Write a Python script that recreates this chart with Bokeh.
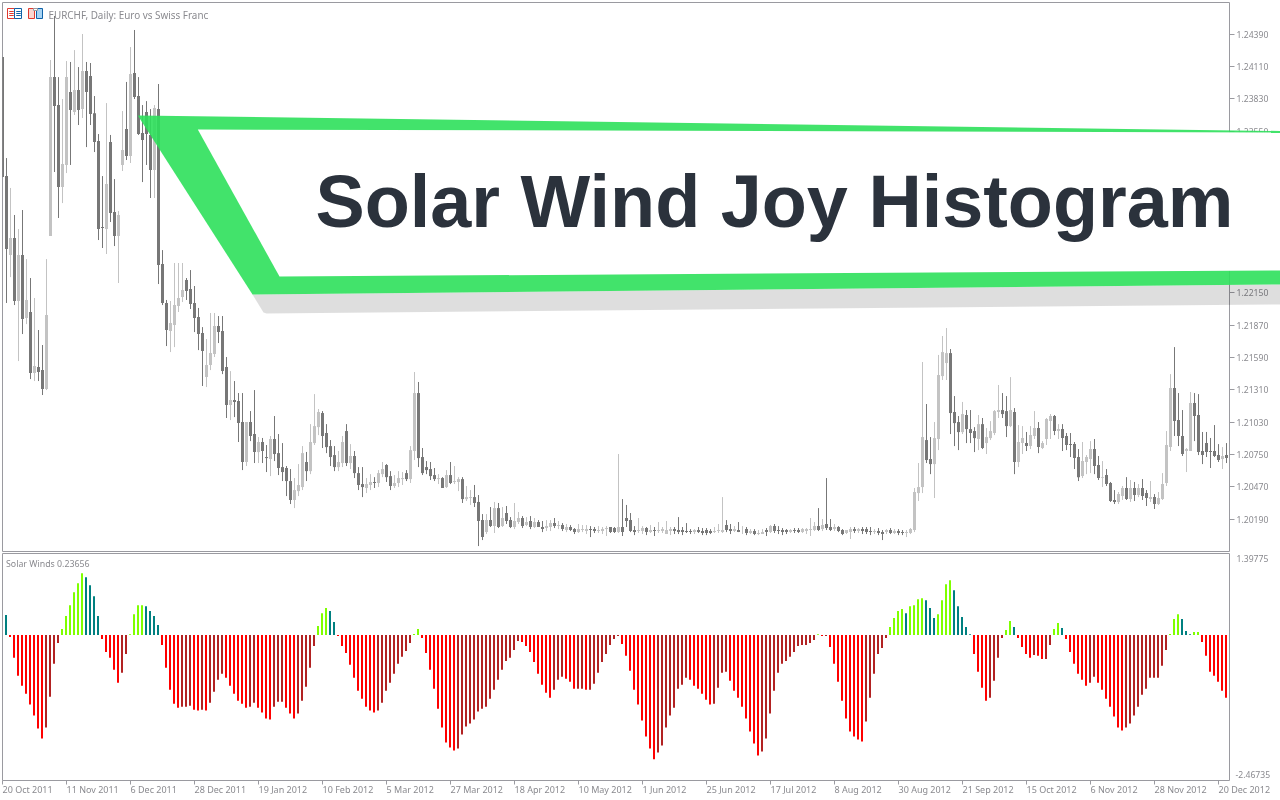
from bokeh.embed import file_html
from bokeh.layouts import column
from bokeh.models import FixedTicker, Label, LinearAxis, PolyAnnotation, Range1d
from bokeh.plotting import figure
from bokeh.resources import INLINE

# ---------- values ----------
opens = [1.24190,1.23160,1.22476,1.22624,1.22078,1.22476,1.21931,1.21983,1.21454,1.21506,1.21480,1.21316,
1.22641,1.24017,1.23775,1.23065,1.23256,1.23888,1.23715,1.23905,1.23740,1.24069,1.24026,1.23705,1.23463,1.22718,1.22701,1.23455,1.22849,1.22641,1.23256,1.23567,1.23333,1.24052,1.23853,1.23533,1.23714,1.23516,1.23212,1.23740,1.22398,
1.22061,1.21818,1.21870,1.22035,1.22112,1.22260,1.22182,1.22061,1.21939,1.21800,1.21419,1.21524,1.21619,1.21861,1.21818,1.21506,1.21177,1.21221,1.21212,1.21030,1.20684,1.21030,1.20926,1.20770,1.20857,1.20727,1.20710,1.20883,1.20761,1.20640,1.20632,1.20519,1.20355,1.20432,1.20467,1.20684,1.20605,1.20848,1.20986,1.21108,
1.20935,1.20822,1.20744,1.20640,1.20675,1.20952,1.20675,1.20736,1.20588,1.20493,1.20459,1.20485,1.20511,1.20502,1.20579,1.20658,1.20562,1.20476,1.20502,1.20536,1.20588,1.20536,1.20779,1.21281,1.20727,1.20640,1.20623,1.20571,1.20536,1.20545,1.20467,1.20571,1.20511,1.20511,1.20536,1.20363,1.20372,1.20380,
1.20338,1.20181,1.20077,1.20181,1.20129,1.20285,1.20129,1.20242,1.20181,1.20121,1.20164,1.20199,1.20138,1.20173,1.20121,1.20164,1.20121,1.20112,1.20121,1.20155,1.20129,1.20138,1.20095,1.20121,1.20103,1.20077,1.20095,1.20086,1.20103,1.20103,1.20086,1.20086,1.20103,1.20121,1.20112,1.20077,1.20121,1.20199,1.20181,1.20095,1.20086,1.20086,1.20112,1.20077,1.20095,1.20086,1.20086,1.20060,1.20086,1.20103,1.20095,1.20095,1.20086,1.20086,1.20077,1.20095,1.20086,1.20095,1.20086,1.20077,1.20086,1.20077,1.20138,1.20103,1.20086,1.20095,1.20112,1.20103,1.20069,1.20086,1.20060,1.20060,1.20095,1.20077,1.20129,1.20095,1.20095,1.20095,1.20077,1.20095,1.20095,1.20077,1.20086,1.20095,1.20095,1.20129,1.20103,1.20147,1.20121,1.20103,1.20121,1.20095,1.20069,1.20077,1.20103,1.20086,
1.20103,1.20103,1.20086,1.20077,1.20086,1.20077,1.20077,1.20095,1.20069,1.20086,1.20077,1.20069,1.20069,1.20095,1.20415,1.20467,1.20874,1.20710,1.20666,1.20883,1.21428,1.21541,1.21627,1.21117,1.21030,1.20943,1.21091,1.20969,1.20952,1.20883,1.21012,1.20848,1.20891,1.20935,1.21117,1.21134,1.21125,1.20995,1.21117,1.20684,1.20848,1.20848,1.20822,1.20909,1.20978,1.20805,1.20883,1.21038,1.21082,1.20952,1.20969,1.20909,1.20839,1.20839,1.20727,1.20562,1.20684,1.20710,1.20796,1.20658,1.20545,1.20571,1.20502,1.20355,1.20338,1.20389,1.20459,1.20363,1.20459,1.20398,1.20459,1.20415,1.20363,1.20380,1.20320,1.20363,1.20502,1.20813,1.21325,1.21047,1.20909,1.20779,1.20779,1.21195,1.21091,1.20779,1.20848,1.20779,1.20779,1.20744,1.20710,1.20744]

highs = [1.24190,1.23316,1.23057,1.22823,1.22701,1.22866,1.22441,1.22277,1.22104,1.21827,1.21697,1.22441,
1.24165,1.24546,1.24017,1.23827,1.24156,1.24148,1.24251,1.24104,1.24390,1.24148,1.24139,1.23853,1.23524,1.23160,1.23792,1.23516,1.23134,1.22857,1.23723,1.23975,1.24277,1.24425,1.24017,1.23775,1.23809,1.23740,1.23775,1.23957,1.22519,
1.22087,1.22078,1.22407,1.22407,1.22407,1.22277,1.22346,1.22208,1.22018,1.21852,1.21749,1.21974,1.21974,1.21948,1.21948,1.21593,1.21471,1.21385,1.21281,1.21281,1.21030,1.21125,1.21307,1.20900,1.20892,1.20831,1.20909,1.21082,1.20926,1.20848,1.20649,1.20623,1.20545,1.20666,1.20822,1.20771,1.21012,1.21272,1.21143,1.21125,
1.21012,1.20874,1.20822,1.20779,1.20909,1.21012,1.20839,1.20779,1.20640,1.20640,1.20545,1.20579,1.20553,1.20614,1.20684,1.20666,1.20605,1.20571,1.20605,1.20597,1.20614,1.20822,1.21463,1.21377,1.20805,1.20692,1.20684,1.20632,1.20579,1.20553,1.20614,1.20684,1.20649,1.20553,1.20553,1.20476,1.20441,1.20485,
1.20398,1.20233,1.20233,1.20294,1.20338,1.20329,1.20294,1.20303,1.20207,1.20329,1.20251,1.20216,1.20207,1.20216,1.20199,1.20181,1.20173,1.20181,1.20181,1.20199,1.20173,1.20155,1.20147,1.20138,1.20112,1.20147,1.20138,1.20138,1.20129,1.20121,1.20129,1.20121,1.20129,1.20121,1.20121,1.20753,1.20363,1.20312,1.20242,1.20129,1.20199,1.20129,1.20121,1.20138,1.20121,1.20164,1.20121,1.20173,1.20121,1.20121,1.20207,1.20121,1.20155,1.20103,1.20103,1.20121,1.20112,1.20112,1.20103,1.20121,1.20147,1.20380,1.20181,1.20147,1.20129,1.20164,1.20129,1.20121,1.20103,1.20103,1.20095,1.20103,1.20112,1.20138,1.20147,1.20129,1.20112,1.20103,1.20103,1.20112,1.20112,1.20112,1.20112,1.20199,1.20164,1.20285,1.20190,1.20545,1.20190,1.20147,1.20129,1.20103,1.20095,1.20121,1.20121,1.20112,
1.20121,1.20121,1.20121,1.20103,1.20112,1.20095,1.20103,1.20112,1.20103,1.20103,1.20095,1.20095,1.20112,1.20459,1.20675,1.21550,1.21186,1.20900,1.21030,1.21611,1.21775,1.21844,1.21662,1.21255,1.21082,1.21204,1.21134,1.21134,1.20986,1.21091,1.21065,1.20978,1.21038,1.21134,1.21351,1.21281,1.21255,1.21419,1.21151,1.21004,1.20995,1.20944,1.20995,1.21125,1.21030,1.20865,1.21065,1.21099,1.21091,1.21012,1.21012,1.20935,1.20935,1.20857,1.20796,1.20857,1.20744,1.20865,1.20883,1.20736,1.20692,1.20623,1.20511,1.20441,1.20424,1.20476,1.20553,1.20528,1.20511,1.20493,1.20536,1.20441,1.20519,1.20406,1.20424,1.20588,1.20952,1.21445,1.21679,1.21281,1.21134,1.20805,1.21290,1.21281,1.21272,1.20944,1.20944,1.20892,1.21004,1.20839,1.20813,1.20848]

lows = [1.23151,1.22061,1.22285,1.22043,1.21558,1.21792,1.21878,1.21402,1.21385,1.21385,1.21264,1.21307,
1.22641,1.23195,1.22797,1.22926,1.23186,1.23256,1.23689,1.23602,1.23663,1.23411,1.23602,1.23368,1.22606,1.22537,1.22485,1.22762,1.22554,1.22234,1.23204,1.23299,1.23273,1.23827,1.23516,1.23108,1.23256,1.22970,1.22970,1.22225,1.22043,
1.21688,1.21636,1.21679,1.21983,1.22069,1.22087,1.22009,1.21809,1.21653,1.21342,1.21333,1.21480,1.21593,1.21714,1.21445,1.21065,1.21047,1.21073,1.20857,1.20614,1.20649,1.20865,1.20675,1.20675,1.20675,1.20597,1.20562,1.20692,1.20571,1.20519,1.20389,1.20320,1.20285,1.20389,1.20441,1.20519,1.20579,1.20831,1.20917,1.20805,
1.20761,1.20649,1.20605,1.20605,1.20640,1.20649,1.20623,1.20545,1.20441,1.20380,1.20415,1.20441,1.20459,1.20467,1.20553,1.20511,1.20441,1.20459,1.20467,1.20485,1.20519,1.20502,1.20701,1.20640,1.20571,1.20579,1.20528,1.20519,1.20493,1.20459,1.20459,1.20493,1.20493,1.20432,1.20329,1.20346,1.20312,1.20294,
1.19956,1.20008,1.20060,1.20121,1.20069,1.20112,1.20121,1.20147,1.20112,1.20103,1.20147,1.20112,1.20129,1.20103,1.20112,1.20121,1.20077,1.20086,1.20086,1.20112,1.20103,1.20086,1.20077,1.20086,1.20060,1.20069,1.20077,1.20060,1.20034,1.20069,1.20069,1.20060,1.20043,1.20069,1.20069,1.20069,1.20043,1.20121,1.20077,1.20051,1.20069,1.20060,1.20051,1.20069,1.20043,1.20069,1.20069,1.20060,1.20051,1.20060,1.20060,1.20051,1.20069,1.20060,1.20060,1.20069,1.20051,1.20051,1.20060,1.20069,1.20069,1.20069,1.20077,1.20060,1.20077,1.20077,1.20060,1.20051,1.20060,1.20051,1.20051,1.20060,1.20043,1.20069,1.20069,1.20060,1.20051,1.20060,1.20069,1.20069,1.20069,1.20069,1.20060,1.20043,1.20086,1.20086,1.20086,1.20095,1.20086,1.20086,1.20077,1.20051,1.20060,1.20017,1.20069,1.20069,
1.20060,1.20060,1.20051,1.20060,1.20051,1.20008,1.20060,1.20060,1.20060,1.20051,1.20051,1.20034,1.20060,1.20077,1.20346,1.20415,1.20675,1.20579,1.20372,1.20787,1.21394,1.21394,1.20926,1.20822,1.20787,1.20926,1.20848,1.20848,1.20770,1.20787,1.20796,1.20753,1.20874,1.20917,1.21065,1.21065,1.20900,1.20986,1.20579,1.20640,1.20753,1.20779,1.20796,1.20883,1.20761,1.20796,1.20831,1.20883,1.20917,1.20883,1.20779,1.20787,1.20727,1.20623,1.20519,1.20545,1.20579,1.20588,1.20579,1.20528,1.20467,1.20476,1.20338,1.20320,1.20320,1.20355,1.20355,1.20338,1.20346,1.20380,1.20355,1.20303,1.20338,1.20277,1.20312,1.20355,1.20476,1.20779,1.20909,1.20822,1.20736,1.20597,1.20779,1.20865,1.20744,1.20666,1.20727,1.20632,1.20727,1.20684,1.20623,1.20675]

closes = [1.23151,1.22528,1.22624,1.22078,1.22476,1.21922,1.22087,1.21454,1.21515,1.21463,1.21316,1.21957,
1.24017,1.23766,1.23065,1.23264,1.24017,1.23732,1.23905,1.23732,1.24069,1.23888,1.23697,1.23455,1.22701,1.22710,1.23091,1.22840,1.22641,1.22823,1.23385,1.23333,1.24043,1.23844,1.23524,1.23472,1.23524,1.23212,1.23749,1.22390,1.22061,
1.21826,1.21887,1.22043,1.22104,1.22173,1.22164,1.22052,1.21931,1.21792,1.21645,1.21524,1.21627,1.21861,1.21809,1.21471,1.21177,1.21221,1.21204,1.21021,1.20684,1.21030,1.20909,1.20770,1.20857,1.20779,1.20718,1.20883,1.20753,1.20632,1.20597,1.20519,1.20355,1.20441,1.20485,1.20761,1.20605,1.20857,1.20995,1.21117,1.20909,
1.20813,1.20727,1.20640,1.20684,1.20857,1.20675,1.20736,1.20588,1.20485,1.20467,1.20493,1.20511,1.20502,1.20588,1.20623,1.20553,1.20476,1.20502,1.20545,1.20545,1.20536,1.20787,1.21281,1.20718,1.20588,1.20614,1.20562,1.20536,1.20545,1.20459,1.20571,1.20502,1.20519,1.20536,1.20363,1.20380,1.20380,1.20329,
1.20173,1.20034,1.20181,1.20129,1.20285,1.20121,1.20199,1.20173,1.20121,1.20173,1.20199,1.20129,1.20164,1.20121,1.20164,1.20121,1.20103,1.20129,1.20155,1.20129,1.20138,1.20103,1.20121,1.20095,1.20077,1.20103,1.20103,1.20103,1.20095,1.20086,1.20095,1.20103,1.20112,1.20077,1.20077,1.20121,1.20077,1.20173,1.20086,1.20077,1.20095,1.20112,1.20077,1.20095,1.20086,1.20095,1.20103,1.20095,1.20103,1.20086,1.20077,1.20077,1.20077,1.20077,1.20095,1.20077,1.20069,1.20069,1.20069,1.20086,1.20095,1.20095,1.20095,1.20086,1.20103,1.20077,1.20112,1.20069,1.20086,1.20060,1.20069,1.20077,1.20077,1.20129,1.20086,1.20086,1.20077,1.20077,1.20095,1.20086,1.20077,1.20103,1.20103,1.20103,1.20129,1.20095,1.20138,1.20112,1.20095,1.20121,1.20086,1.20060,1.20095,1.20103,1.20086,1.20103,
1.20086,1.20077,1.20077,1.20086,1.20069,1.20060,1.20095,1.20069,1.20086,1.20069,1.20069,1.20077,1.20103,1.20424,1.20467,1.20900,1.20701,1.20666,1.20891,1.21437,1.21636,1.21627,1.21108,1.21021,1.20943,1.21099,1.20969,1.20935,1.20891,1.21012,1.20805,1.20900,1.20952,1.21125,1.21134,1.21099,1.20995,1.21134,1.20684,1.20857,1.20891,1.20822,1.20917,1.20978,1.20813,1.20848,1.21056,1.21082,1.20952,1.20969,1.20891,1.20831,1.20831,1.20718,1.20553,1.20692,1.20727,1.20796,1.20649,1.20545,1.20553,1.20493,1.20346,1.20338,1.20406,1.20459,1.20363,1.20459,1.20398,1.20459,1.20389,1.20372,1.20380,1.20320,1.20372,1.20493,1.20831,1.21325,1.21038,1.20909,1.20753,1.20796,1.21195,1.21082,1.20770,1.20744,1.20770,1.20770,1.20736,1.20701,1.20736,1.20718]

solar_winds = [.341,-.034,-.392,-.700,-.870,-1.007,-1.194,-1.382,-1.604,-1.775,-1.587,-1.058,-.495,-.137,.102,.324,.512,.734,.887,1.058,.990,.853,.665,.324,-.068,-.290,-.392,-.597,-.819,-.648,-.324,.011,.358,.512,.512,.495,.410,.324,.171,-.171,-.563,-.939,-1.177,-1.246,-1.229,-1.229,-1.212,-1.280,-1.297,-1.280,-1.297,-1.160,-.973,-.768,-.665,-.734,-.870,-1.007,-1.126,-1.177,-1.246,-1.229,-1.160,-1.246,-1.331,-1.433,-1.450,-1.229,-1.143,-1.143,-1.246,-1.348,-1.433,-1.348,-1.126,-.887,-.563,-.188,.154,.375,.461,.410,.222,-.017,-.188,-.307,-.512,-.734,-.956,-1.092,-1.229,-1.297,-1.331,-1.297,-1.160,-.956,-.819,-.665,-.495,-.375,-.273,-.137,.017,.102,
-.051,-.307,-.597,-.921,-1.263,-1.587,-1.843,-1.928,-1.979,-1.945,-1.706,-1.570,-1.519,-1.450,-1.314,-1.263,-1.229,-1.092,-.939,-.768,-.597,-.444,-.392,-.256,-.102,-.119,-.188,-.290,-.461,-.665,-.853,-.990,-1.075,-.939,-.768,-.717,-.751,-.802,-.921,-.921,-.921,-.939,-.939,-.836,-.648,-.461,-.324,-.171,-.068,-.017,-.154,-.358,-.614,-.939,-1.194,-1.467,-1.741,-1.945,-2.133,-2.014,-1.894,-1.587,-1.382,-1.246,-.921,-.853,-.734,-.768,-.870,-.921,-1.007,-1.109,-1.194,-1.177,-.904,-.648,-.631,-.785,-.956,-1.075,-1.229,-1.433,-1.655,-1.860,-2.065,-1.996,-1.775,-1.348,-.956,-.648,-.495,-.444,-.375,-.290,-.188,-.171,-.171,-.137,-.085,.011,-.017,-.017,-.205,-.495,-.802,-1.126,-1.433,
-1.655,-1.741,-1.792,-1.826,-1.485,-1.075,-.665,-.324,-.222,-.051,.137,.290,.410,.444,.375,.495,.512,.614,.631,.597,.461,.290,.358,.597,.870,.939,.768,.495,.307,.137,.011,-.324,-.631,-.904,-1.126,-1.075,-.785,-.392,-.051,.085,.239,.137,-.051,-.205,-.324,-.392,-.341,-.358,-.410,-.410,-.171,.102,.205,.119,-.068,-.290,-.495,-.665,-.768,-.870,-.819,-.717,-.819,-.939,-1.092,-1.229,-1.399,-1.587,-1.638,-1.587,-1.519,-1.382,-1.229,-1.024,-.921,-.734,-.734,-.734,-.529,-.256,.017,.273,.358,.273,.068,.011,.051,.051,-.119,-.358,-.631,-.700,-.802,-.956,-1.075]

price_ticks = [1.24390,1.24110,1.23830,1.23550,1.22150,1.21870,1.21590,1.21310,1.21030,1.20750,1.20470,1.20190]
scale_max = 1.39775
scale_min = -2.46735
date_labels = ["20 Oct 2011","11 Nov 2011","6 Dec 2011","28 Dec 2011","19 Jan 2012","10 Feb 2012","5 Mar 2012","27 Mar 2012","18 Apr 2012","10 May 2012","1 Jun 2012","25 Jun 2012","17 Jul 2012","8 Aug 2012","30 Aug 2012","21 Sep 2012","15 Oct 2012","6 Nov 2012","28 Nov 2012","20 Dec 2012"]
date_bars = [-1 + 16 * k for k in range(len(date_labels))]

# ---------- styles ----------
GREY = "#8a8a8f"
FRAME = "#9a9aa0"
FONT = "Noto Sans"
FS = "8.6px"
UP, DOWN = "#c3c3c3", "#777777"
LIME, TEAL, RED, BRICK = "#7fff00", "#008080", "#ff0000", "#b22222"
ICON_RED, ICON_BLUE = "#e0392f", "#0f62a8"

# ---------- price panel ----------
main = figure(width=1280, height=552, output_backend="svg", toolbar_location=None,
              x_axis_location=None, y_axis_location=None,
              x_range=Range1d(-1.0, 305.75), y_range=Range1d(1.19909, 1.24663),
              min_border_left=2, min_border_right=51, min_border_top=2, min_border_bottom=1,
              outline_line_color=FRAME, outline_line_width=1, background_fill_color="white")
main.grid.visible = False
xs = [i - 1 for i in range(len(opens))]
candle_colors = [UP if c >= o else DOWN for o, c in zip(opens, closes)]
main.segment(xs, highs, xs, lows, line_color=candle_colors, line_width=1)
main.vbar(x=xs, top=[max(a, b) for a, b in zip(opens, closes)], bottom=[min(a, b) for a, b in zip(opens, closes)],
          width=0.75, fill_color=candle_colors, line_color=None)
price_axis = LinearAxis(ticker=FixedTicker(ticks=price_ticks),
                        major_label_overrides={t: f"{t:.5f}" for t in price_ticks},
                        axis_line_color=None, major_tick_line_color=FRAME, major_tick_out=5, major_tick_in=0,
                        minor_tick_line_color=None, major_label_standoff=2,
                        major_label_text_color=GREY, major_label_text_font=FONT, major_label_text_font_size=FS)
main.add_layout(price_axis, "right")

# ---------- indicator panel ----------
sub_x_start = -0.875
sub = figure(width=1280, height=248, output_backend="svg", toolbar_location=None,
             x_axis_location=None, y_axis_location=None,
             x_range=Range1d(sub_x_start, 305.875), y_range=Range1d(-2.4954, scale_max),
             min_border_left=2, min_border_right=51, min_border_top=1, min_border_bottom=20,
             outline_line_color=FRAME, outline_line_width=1, background_fill_color="white")
sub.grid.visible = False
bar_x = list(range(len(solar_winds)))
bar_colors = []
for i, v in enumerate(solar_winds):
    prev = solar_winds[i - 1] if i else 1.0
    if v > 0:
        bar_colors.append(LIME if v >= prev else TEAL)
    else:
        bar_colors.append(RED if v < prev else BRICK)
sub.vbar(x=bar_x, top=solar_winds, bottom=0, width=0.5, fill_color=bar_colors, line_color=None)

tick_positions = [max(t, sub_x_start) for t in date_bars]
time_axis = LinearAxis(ticker=FixedTicker(ticks=tick_positions), major_label_overrides={t: "" for t in tick_positions},
                       axis_line_color=None, major_tick_line_color=FRAME, major_tick_out=4, major_tick_in=0,
                       minor_tick_line_color=None)
sub.add_layout(time_axis, "below")

# ---------- transparent top layer: banner and free-standing texts ----------
top = figure(width=1280, height=800, output_backend="svg", toolbar_location=None,
             x_axis_location=None, y_axis_location=None,
             x_range=Range1d(0, 1280), y_range=Range1d(800, 0),
             min_border=0, outline_line_color=None, background_fill_color=None, border_fill_color=None,
             styles={"position": "fixed", "left": "0px", "top": "0px"})
top.grid.visible = False


def poly(pts, color, alpha=1.0):
    return PolyAnnotation(xs=[a for a, _ in pts], ys=[b for _, b in pts], xs_units="canvas", ys_units="canvas",
                          fill_color=color, fill_alpha=alpha, line_color=None)


def rect(x0, y0, x1, y1, fill, line):
    return PolyAnnotation(xs=[x0, x1, x1, x0], ys=[y0, y0, y1, y1], xs_units="canvas", ys_units="canvas",
                          fill_color=fill, fill_alpha=1 if fill else 0, line_color=line, line_alpha=1, line_width=1)


def small_text(x, y, s, size=FS):
    return Label(x=x, y=y, x_units="canvas", y_units="canvas", text=s, text_font=FONT, text_font_size=size,
                 text_color=GREY, text_baseline="middle", text_align="left")


top.add_layout(poly([(252, 294), (1280, 284), (1280, 304), (266, 313), (263, 312)], "#000000", 0.13))
top.add_layout(poly([(137.3, 115), (1280, 130.5), (1280, 284), (252, 294)], "#2de05b", 0.9))
top.add_layout(poly([(197.3, 129), (1280, 132), (1280, 270), (279, 276)], "#ffffff"))
top.add_layout(Label(x=315, y=201, x_units="canvas", y_units="canvas", text="Solar Wind Joy Histogram",
                     text_font="Liberation Sans", text_font_style="bold", text_font_size="73.8px", text_color="#2b323c",
                     text_baseline="alphabetic", text_align="left"))

top.add_layout(rect(7, 8, 14, 18, "#ffffff", ICON_RED))
top.add_layout(rect(14, 8, 21, 18, "#ffffff", ICON_BLUE))
for yy in (11, 13, 15):
    top.add_layout(rect(9, yy, 13, yy, None, ICON_RED))
    top.add_layout(rect(16, yy, 20, yy, None, ICON_BLUE))
top.add_layout(rect(28, 8, 34, 18, "#fbd6d0", ICON_RED))
top.add_layout(rect(36, 8, 42, 18, "#a8d4f4", ICON_BLUE))
top.add_layout(rect(33, 8, 37, 10, "#ffffff", FRAME))

top.add_layout(small_text(48, 14, "EURCHF, Daily:  Euro vs Swiss Franc", "9.9px"))
top.add_layout(small_text(5.5, 563, "Solar Winds 0.23656", "8.8px"))
top.add_layout(small_text(1236, 558, "1.39775"))
top.add_layout(small_text(1235, 774, "-2.46735"))
for t, name in zip(date_bars, date_labels):
    top.add_layout(small_text(4 * t + 6, 789, name, "9px"))

page = column(main, sub, spacing=0, styles={"position": "fixed", "left": "0px", "top": "0px"})
open("out.html", "w").write(file_html([page, top], INLINE))
